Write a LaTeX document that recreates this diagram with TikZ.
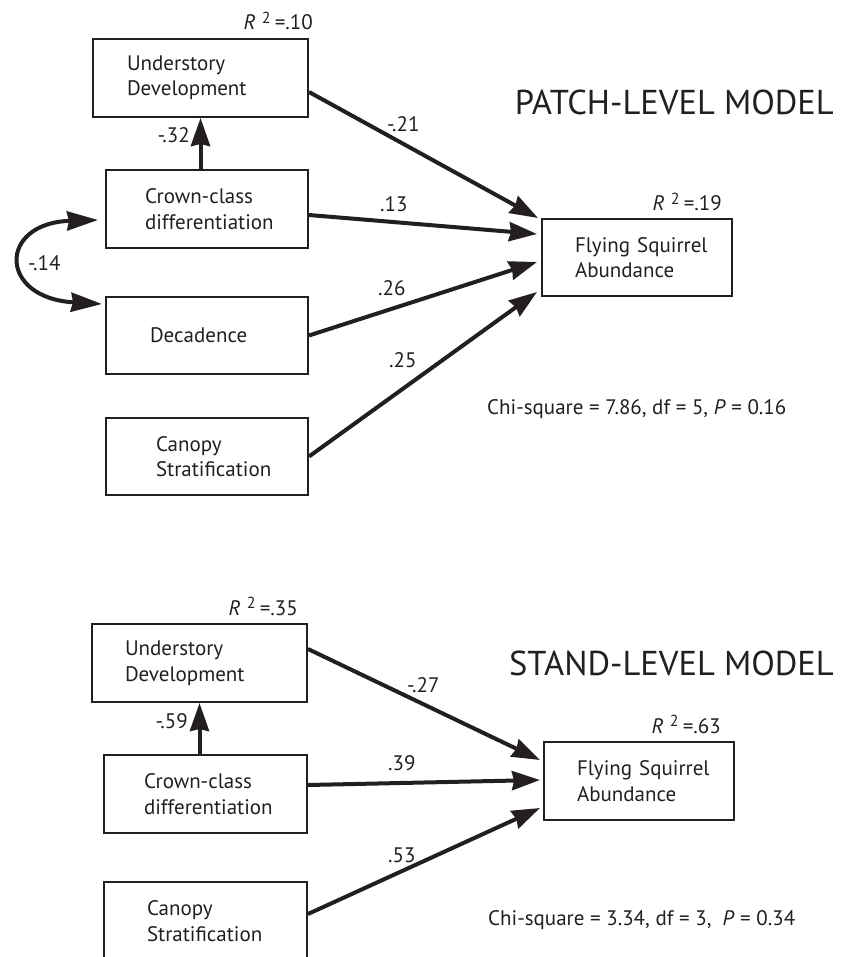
\documentclass[tikz,border=0pt]{standalone}
\usepackage{fontspec}
\setmainfont{PT Sans}
\usetikzlibrary{arrows.meta,calc}
\definecolor{ink}{HTML}{231F20}
\newcommand{\boxfont}{\fontsize{21}{25.5}\selectfont}
\newcommand{\lblfont}{\fontsize{21}{24}\selectfont}
\newcommand{\chifont}{\fontsize{21}{25}\selectfont}
\newcommand{\titlefont}{\fontsize{34.5}{40}\selectfont}
\newcommand{\rsq}[1]{\textit{R}\hspace{0.3em}\raisebox{0.6ex}{\fontsize{16}{18}\selectfont 2}\hspace{0.2em}=#1}
\begin{document}
\begin{tikzpicture}[x=1pt,y=-1pt,
  box/.style={draw=ink, line width=2pt, anchor=north west, inner ysep=0pt,
    align=left, font=\boxfont, text=ink},
  lbl/.style={font=\lblfont, text=ink, inner sep=0pt},
  path/.style={draw=ink, line width=4pt,
    -{Stealth[length=28pt,width=19pt,inset=2pt]}},
  corr/.style={draw=ink, line width=4pt,
    {Stealth[length=31pt,width=19pt,inset=2pt]}-{Stealth[length=31pt,width=19pt,inset=2pt]}},
  ttl/.style={font=\titlefont, text=ink, inner sep=0pt},
  chi/.style={font=\chifont, text=ink, inner sep=0pt}]
\useasboundingbox (0,0) rectangle (842,957);
\clip (0,0) rectangle (842,957);

% ---------------- PATCH-LEVEL ----------------
\node[box, minimum height=78pt, inner xsep=34pt, text width=147pt] (und) at (92,38) {Understory\\Development};
\node[box, minimum height=78pt, inner xsep=39pt, text width=124pt] (crw) at (105,169) {Crown-class\\differentiation};
\node[box, minimum height=77pt, inner xsep=44pt, text width=114pt] (dec) at (105,296) {Decadence};
\node[box, minimum height=77pt, inner xsep=50pt, text width=102pt] (can) at (105,417) {Canopy\\\mbox{Stratification}};
\node[box, minimum height=77pt, inner xsep=33pt, text width=124pt] (fsa) at (541,218) {\mbox{Flying Squirrel}\\Abundance};

\node[lbl, anchor=base east] (r1) at (313,30) {\rsq{.10}};
\node[lbl, anchor=base east] (r2) at (722,211) {\rsq{.19}};
\node[ttl, anchor=base east] (t1) at (834,115) {PATCH-LEVEL MODEL};
\node[chi, anchor=base west] (c1) at (487,414) {Chi-square = 7.86, df = 5, \textit{P} = 0.16};

\draw[path] (und.south |- crw.north) -- (und.south);
\node[lbl, anchor=base east] (l32) at (190,143) {-.32};

\draw[path] ([yshift=-14pt]und.east) -- ([xshift=-3pt]fsa.north west);
\draw[path] ([yshift=-6pt]crw.east) -- ([shift={(-4pt,23.5pt)}]fsa.west);
\draw[path] (dec.east) -- ([shift={(-4pt,-4.5pt)}]fsa.west);
\draw[path] (can.east) -- ([shift={(-4pt,5pt)}]fsa.south west);
\node[lbl, anchor=base west] (l21) at (387,132) {-.21};
\node[lbl, anchor=base west] (l13) at (380,212) {.13};
\node[lbl, anchor=base west] (l26) at (378,295) {.26};
\node[lbl, anchor=base west] (l25) at (389,367) {.25};

\draw[corr] ([shift={(-7pt,-11pt)}]crw.west) .. controls (-2,223) and (-2,298) .. ([shift={(-3pt,31.5pt)}]dec.west);
\node[lbl, anchor=base west] (l14) at (28,270) {-.14};

% ---------------- STAND-LEVEL ----------------
\node[box, minimum height=78pt, inner xsep=33pt, text width=149pt] (und2) at (91,623) {Understory\\Development};
\node[box, minimum height=78pt, inner xsep=40pt, text width=123pt] (crw2) at (103,754) {Crown-class\\differentiation};
\node[box, minimum height=78pt, inner xsep=43pt, text width=117pt] (can2) at (103,881) {Canopy\\\mbox{Stratification}};
\node[box, minimum height=78pt, inner xsep=33pt, text width=124pt] (fsa2) at (543,741) {\mbox{Flying Squirrel}\\Abundance};

\node[lbl, anchor=base east] (r3) at (298,615) {\rsq{.35}};
\node[lbl, anchor=base east] (r4) at (721,733) {\rsq{.63}};
\node[ttl, anchor=base east] (t2) at (834,675) {STAND-LEVEL MODEL};
\node[chi, anchor=base west] (c2) at (488,925) {Chi-square = 3.34, df = 3, \ \textit{P} = 0.34};

\draw[path] (und2.south |- crw2.north) -- (und2.south);
\node[lbl, anchor=base east] (l59) at (188,728) {-.59};

\draw[path] ([yshift=14pt]und2.east) -- ([shift={(-3pt,21pt)}]fsa2.west);
\draw[path] ([yshift=9pt]crw2.east) -- ([shift={(-3pt,1pt)}]fsa2.west);
\draw[path] ([yshift=7pt]can2.east) -- ([shift={(-3pt,-27pt)}]fsa2.west);
\node[lbl, anchor=base west] (l27) at (407,692) {-.27};
\node[lbl, anchor=base west] (l39) at (388,770) {.39};
\node[lbl, anchor=base west] (l53) at (388,862) {.53};
\end{tikzpicture}
\end{document}
